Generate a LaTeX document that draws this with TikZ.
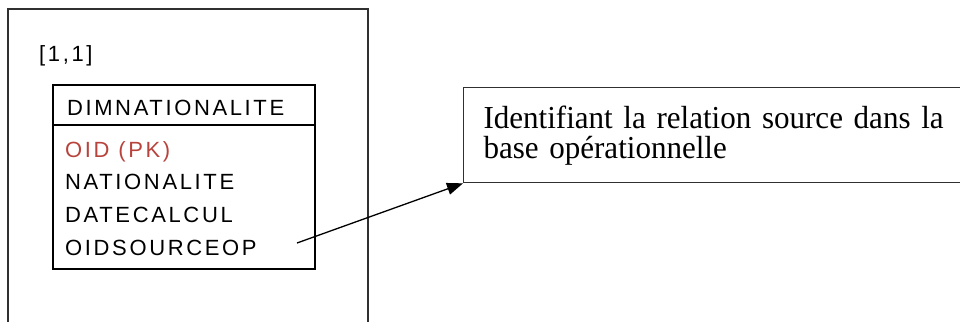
\documentclass[tikz,border=0pt]{standalone}
\usepackage{fontspec}
\setmainfont{Liberation Serif}
\newfontfamily\notefont[FakeStretch=0.97]{Liberation Serif}
\newfontfamily\tablefont[LetterSpace=12]{Liberation Sans}
\definecolor{FrameGray}{HTML}{303030}
\definecolor{KeyRed}{HTML}{B8433C}
\usetikzlibrary{arrows.meta,positioning}

\begin{document}
\begin{tikzpicture}[x=1pt,y=-1pt,
        tablebox/.style={draw=black,line width=1.6pt,outer sep=0pt,
                     minimum width=262pt,inner xsep=14pt,
                     text width=234pt,align=left},
        field/.style={inner sep=0pt,text height=16pt,text depth=0pt,
                     font=\tablefont\fontsize{22}{24}\selectfont},
        notebox/.style={draw=FrameGray,line width=1pt,
                     text width=490pt,inner xsep=20pt,inner ysep=18pt,
                     align=left,font=\notefont\fontsize{32}{30}\selectfont}]
        \useasboundingbox (0,0) rectangle (960,321);
        \clip (0,0) rectangle (960,321);
        % cadre de l'instance, ouvert en bas
        \draw[FrameGray,line width=1.2pt] (8,330) -- (8,9) -- (368,9) -- (368,330);
        \node[field,anchor=base west] (card) at (39,62) {[1,1]};
        % table de dimension
        \node[tablebox,anchor=north west,minimum height=40pt,
              text height=20pt,text depth=0pt,
              font=\tablefont\fontsize{22}{24}\selectfont] (head) at (53,85)
              {DIMNATIONALITE};
        \node[tablebox,below=0pt of head,minimum height=144pt] (body) {};
        \node[field,anchor=base west,text=KeyRed] (f1) at (65,157) {OID (PK)};
        \node[field,below=16.5pt of f1.south west,anchor=north west] (f2)
              {NATIONALITE};
        \node[field,below=16.5pt of f2.south west,anchor=north west] (f3)
              {DATECALCUL};
        \node[field,below=16.5pt of f3.south west,anchor=north west] (f4)
              {OIDSOURCEOP};
        % note explicative
        \node[notebox,anchor=north west] (note) at (463,87)
              {Identifiant la relation source dans la\\base opérationnelle};
        \coordinate (src) at (297,243);
        \draw[-{Triangle[length=16pt,width=12pt]},line width=1.3pt,black]
              (src) -- (note.south west);
      \end{tikzpicture}
\end{document}
